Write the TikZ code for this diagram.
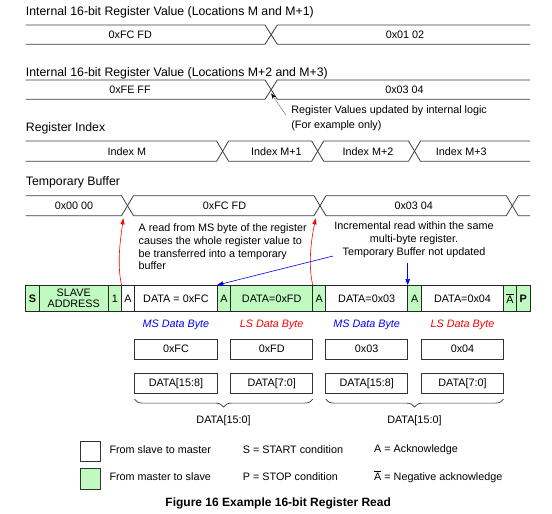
\documentclass[tikz,border=0pt]{standalone}
\usepackage{fontspec}
\setmainfont{Liberation Sans}
\usetikzlibrary{arrows.meta,decorations.pathreplacing}
\definecolor{mastergreen}{RGB}{192,250,192}
\definecolor{busgray}{RGB}{60,60,60}

\begin{document}
\begin{tikzpicture}[x=1pt, y=-1pt]
	\tikzset{
		heading/.style={anchor=west, inner sep=0pt, font=\fontsize{12.3}{14}\selectfont},
		value/.style={inner sep=0pt, font=\fontsize{10.8}{13}\selectfont},
		bus/.style={draw=busgray, line width=0.8pt},
		field/.style={draw=black!85, line width=0.9pt, inner sep=0pt, outer sep=0pt, minimum height=26.7pt, align=center, font=\fontsize{10.8}{11.8}\selectfont},
		byte box/.style={draw=black!80, line width=0.8pt, inner sep=0pt, outer sep=0pt, minimum height=20.2pt, font=\fontsize{10.8}{13}\selectfont},
		byte label/.style={inner sep=0pt, font=\fontsize{10.8}{13}\selectfont\itshape},
		note/.style={inner sep=0pt, font=\fontsize{10.8}{12.9}\selectfont},
		key box/.style={draw=black!80, line width=0.8pt, inner sep=0pt, minimum width=20pt, minimum height=20.7pt},
		note arrow/.style={-{Stealth[length=6pt, width=4pt, color=black]}, draw=gray, line width=0.5pt},
		load arrow/.style={-{Triangle[length=6pt, width=4pt]}, red, line width=0.6pt},
		point arrow/.style={-{Triangle[length=6pt, width=4.5pt]}, blue, line width=0.6pt}
	}
	\useasboundingbox (0,0) rectangle (552,514);
	
	% Internal register values
	\node[heading] (h1) at (25.7,12.8) {Internal 16-bit Register Value (Locations M and M+1)};
	\draw[bus] (25.7,25) -- (265,25) -- (277.3,44.3) -- (530,44.3);
	\draw[bus] (25.7,44.3) -- (265,44.3) -- (277.3,25) -- (530,25);
	\node[value] (r1a) at (130.3,34.7) {0xFC FD};
	\node[value] (r1b) at (405,34.7) {0x01 02};
	
	\node[heading] (h2) at (25.7,72.9) {Internal 16-bit Register Value (Locations M+2 and M+3)};
	\draw[bus] (25.7,80) -- (265,80) -- (277.3,99.3) -- (530,99.3);
	\draw[bus] (25.7,99.3) -- (265,99.3) -- (277.3,80) -- (530,80);
	\node[value] (r2a) at (130,89.7) {0xFE FF};
	\node[value] (r2b) at (404.5,89.7) {0x03 04};
	
	\coordinate (upd) at (271.1,93.3);
	\coordinate (updfrom) at (285.9,115);
	\draw[note arrow] (updfrom) -- (upd);
	\node[note, anchor=west, align=left] (updtext) at (291.2,118.2) {Register Values updated by internal logic\\[2pt](For example only)};
	
	% Register index
	\node[heading] (h3) at (25.7,127.9) {Register Index};
	\draw[bus] (25.7,141) -- (216.6,141) -- (228.6,161.3) -- (311.7,161.3) -- (323.7,141) -- (408.5,141) -- (420.5,161.3) -- (530,161.3);
	\draw[bus] (25.7,161.3) -- (216.6,161.3) -- (228.6,141) -- (311.7,141) -- (323.7,161.3) -- (408.5,161.3) -- (420.5,141) -- (530,141);
	\foreach \n/\x/\t in {a/126.8/Index M, b/276.4/Index M+1, c/368/Index M+2, d/461.3/Index M+3} {
		\node[value] (r3\n) at (\x,151.2) {\t};
	}
	
	% Temporary buffer
	\node[heading] (h4) at (25.7,182.5) {Temporary Buffer};
	\draw[bus] (25.7,195.7) -- (121.5,195.7) -- (133.5,215.7) -- (314,215.7) -- (326,195.7) -- (506.3,195.7) -- (518.3,215.7) -- (530,215.7);
	\draw[bus] (25.7,215.7) -- (121.5,215.7) -- (133.5,195.7) -- (314,195.7) -- (326,215.7) -- (506.3,215.7) -- (518.3,195.7) -- (530,195.7);
	\node[value] (r4a) at (74,205.7) {0x00 00};
	\node[value] (r4b) at (224.5,205.7) {0xFC FD};
	\node[value] (r4c) at (413.8,205.7) {0x03 04};
	
	\node[note, anchor=west, align=left] (readtext) at (138.4,246.7) {A read from MS byte of the register\\causes the whole register value to\\be transferred into a temporary\\buffer};
	\node[note, align=center] (inctext) at (414,239.5) {Incremental read within the same\\multi-byte register.\\Temporary Buffer not updated};
	
	% Bus frame
	\foreach \n/\xa/\xb/\t/\c in {
		S/25.7/39.4/\textbf{S}/mastergreen,
		SA/39.4/108.1/SLAVE\\ADDRESS/mastergreen,
		R/108.1/121.5/1/mastergreen,
		A1/121.5/134.5/A/white,
		D1/134.5/217.3/DATA = 0xFC/white,
		A2/217.3/230.6/A/mastergreen,
		D2/230.6/312.7/DATA=0xFD/mastergreen,
		A3/312.7/325.7/A/mastergreen,
		D3/325.7/407.7/DATA=0x03/white,
		A4/407.7/421.5/A/mastergreen,
		D4/421.5/503.5/DATA=0x04/white,
		N/503.5/516.5/$\overline{\mbox{A}}$/mastergreen,
		P/516.5/530/\textbf{P}/mastergreen} {
		\pgfmathsetlengthmacro\w{(\xb-\xa)*1pt}
		\node[field, fill=\c, minimum width=\w] (f\n) at ({(\xa+\xb)/2},298.35) {\t};
	}
	
	% Arrows onto the frame
	\coordinate (tb1) at (123.3,218.3);
	\coordinate (tb2) at (315.7,218.3);
	\draw[load arrow] (fA1.north west) .. controls (116.5,262) and (121,236) .. (tb1);
	\draw[load arrow] (fA3.north west) .. controls (307.5,262) and (312,236) .. (tb2);
	\coordinate (inc1) at (333,256);
	\coordinate (inc2) at (407.7,263.3);
	\draw[point arrow] (inc1) -- (fA2.north west);
	\draw[point arrow] (inc2) -- (fA4.north west);
	
	% Data bytes
	\foreach \n/\xa/\xb/\v/\r/\l/\c in {
		1/134.5/217.3/0xFC/DATA[15:8]/MS/blue,
		2/230.6/312.7/0xFD/DATA[7:0]/LS/red,
		3/325.7/407.7/0x03/DATA[15:8]/MS/blue,
		4/421.5/503.5/0x04/DATA[7:0]/LS/red} {
		\pgfmathsetlengthmacro\w{(\xb-\xa)*1pt}
		\node[byte label, text=\c] (l\n) at ({(\xa+\xb)/2},325) {\l\ Data Byte};
		\node[byte box, minimum width=\w] (v\n) at ({(\xa+\xb)/2},349.2) {\v};
		\node[byte box, minimum width=\w] (c\n) at ({(\xa+\xb)/2},383.3) {\r};
	}
	\draw[decorate, decoration={brace, mirror, amplitude=8pt}, draw=black!80, line width=0.7pt] ([yshift=-5.7pt]c1.south west) -- ([yshift=-5.7pt]c2.south east);
	\draw[decorate, decoration={brace, mirror, amplitude=8pt}, draw=black!80, line width=0.7pt] ([yshift=-5.7pt]c3.south west) -- ([yshift=-5.7pt]c4.south east);
	\node[value] (w1) at (223.6,421) {DATA[15:0]};
	\node[value] (w2) at (414.4,421) {DATA[15:0]};
	
	% Legend
	\node[key box] (k1) at (90.7,451.3) {};
	\node[key box, fill=mastergreen] (k2) at (90.7,478.7) {};
	\node[value, anchor=west] (k1t) at (109.3,449.3) {From slave to master};
	\node[value, anchor=west] (k2t) at (109.3,476.6) {From master to slave};
	\node[value, anchor=west] (k3t) at (242.7,449.3) {S = START condition};
	\node[value, anchor=west] (k4t) at (242.7,476.6) {P = STOP condition};
	\node[value, anchor=west] (k5t) at (374,449.3) {A = Acknowledge};
	\node[value, anchor=west] (k6t) at (374,476.6) {$\overline{\mbox{A}}$ = Negative acknowledge};
	
	\node[inner sep=0pt, font=\fontsize{12}{14}\selectfont\bfseries] (cap) at (278.2,503) {Figure 16 Example 16-bit Register Read};
\end{tikzpicture}
\end{document}
